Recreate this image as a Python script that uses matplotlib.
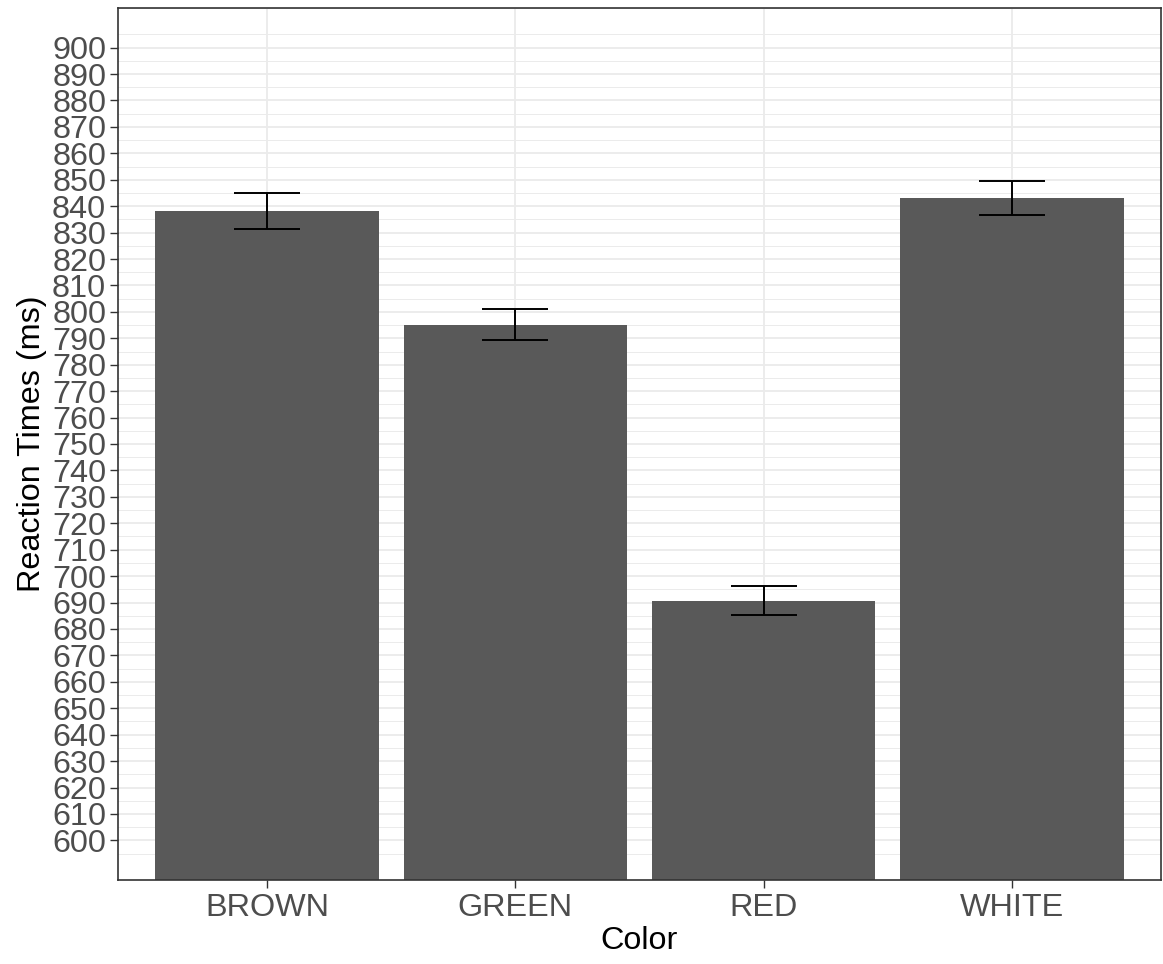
import numpy as np
import matplotlib
matplotlib.use("Agg")
import matplotlib.pyplot as plt

plt.rcParams['font.family'] = ['Liberation Sans', 'DejaVu Sans']

# mean reaction time per word colour, with standard error
colors = ["BROWN", "GREEN", "RED", "WHITE"]
mean_rt = [838.1, 795.2, 690.7, 843.1]
se_rt = [6.7, 6.0, 5.5, 6.4]
y_ticks = list(range(600, 901, 10))

W, H = 1163, 964
fig = plt.figure(figsize=(W / 100, H / 100), dpi=100)
left, right, top, bottom = 118, 1161, 8, 880
ax = fig.add_axes([left / W, (H - bottom) / H, (right - left) / W, (bottom - top) / H])

x = np.arange(1, len(colors) + 1)
ax.set_xlim(0.4, len(colors) + 0.6)
ax.set_ylim(585, 915)

# grid: major every 10 ms, minor halfway between
for yv in y_ticks:
    ax.axhline(yv, color="#EBEBEB", lw=1.3, zorder=0)
for yv in np.arange(585, 916, 10):
    ax.axhline(yv, color="#EBEBEB", lw=0.7, zorder=0)
for xv in x:
    ax.axvline(xv, color="#EBEBEB", lw=1.3, zorder=0)

ax.bar(x, np.array(mean_rt) - 585, bottom=585, width=0.9, color="#595959", zorder=2)
ax.errorbar(x, mean_rt, yerr=se_rt, fmt="none", ecolor="black",
            elinewidth=1.4, capsize=24, capthick=1.4, zorder=3)

ax.set_xticks(x)
ax.set_xticklabels(colors)
ax.set_yticks(y_ticks)
ax.set_yticklabels([str(v) for v in y_ticks])
ax.tick_params(axis="both", colors="#333333", labelcolor="#4D4D4D",
               labelsize=23.3, length=5.5, width=1.0)
ax.tick_params(axis="y", pad=3)
ax.tick_params(axis="x", pad=4)

for sp in ax.spines.values():
    sp.set_color("#333333")
    sp.set_linewidth(1.2)

ax.set_xlabel("Color", fontsize=23.3, color="black", labelpad=2)
ax.set_ylabel("Reaction Times (ms)", fontsize=23.3, color="black", labelpad=4)

fig.savefig("out.png", dpi=100)
